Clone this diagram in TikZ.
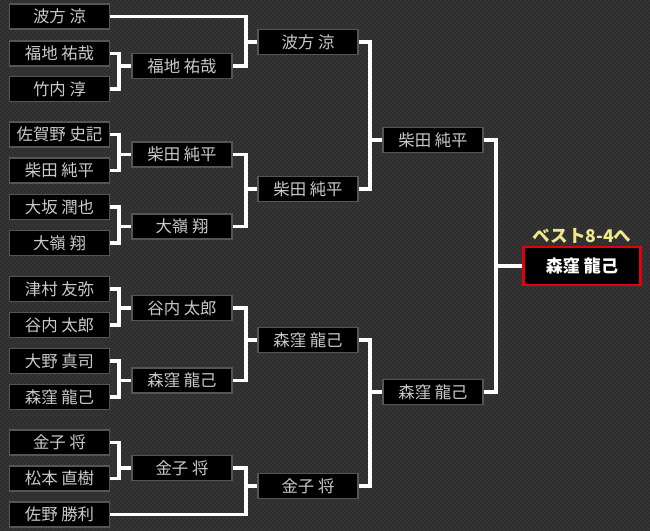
\documentclass[tikz,border=0pt]{standalone}
\usepackage{fontspec}
\setmainfont{Noto Sans CJK JP}
\definecolor{bgc}{HTML}{383838}
\definecolor{stripec}{HTML}{2A2A2A}
\definecolor{boxborder}{HTML}{555555}
\definecolor{namec}{HTML}{CACACA}
\definecolor{goldc}{HTML}{F0E68C}
\definecolor{redc}{HTML}{E00010}
\begin{document}
\begin{tikzpicture}[x=0.75pt,y=-0.75pt,
  namebox/.style={draw=boxborder,line width=1.2pt,fill=black,minimum width=75pt,minimum height=18.75pt,inner sep=0pt,text=namec,font=\fontsize{12.3}{13}\selectfont},
  finalbox/.style={draw=redc,line width=1.8pt,fill=black,minimum width=88pt,minimum height=28.5pt,inner sep=0pt,text=white,font=\fontsize{12.8}{13}\selectfont\bfseries},
  conn/.style={draw=white,line width=2.3pt,line join=miter},
  stripe/.style={draw=stripec,line width=0.9pt}]
\useasboundingbox (0,0) rectangle (650,531);
\fill[bgc] (0,0) rectangle (650,531);
\begin{scope}
\clip (0,0) rectangle (650,531);
\foreach \i in {0,4,...,1184} \draw[stripe] (\i,0) -- (\i-531,531);
\end{scope}
% vertical connector x positions
\coordinate (v1) at (119,0);
\coordinate (v2) at (246,0);
\coordinate (v3) at (370,0);
\coordinate (v4) at (496,0);
% round 1
\node[namebox] (a1) at (59.5,16.5) {波方 涼};
\node[namebox] (a2) at (59.5,53.5) {福地 祐哉};
\node[namebox] (a3) at (59.5,89) {竹内 淳};
\node[namebox] (a4) at (59.5,134.5) {佐賀野 史記};
\node[namebox] (a5) at (59.5,170.5) {柴田 純平};
\node[namebox] (a6) at (59.5,207) {大坂 潤也};
\node[namebox] (a7) at (59.5,243) {大嶺 翔};
\node[namebox] (a8) at (59.5,289) {津村 友弥};
\node[namebox] (a9) at (59.5,325) {谷内 太郎};
\node[namebox] (a10) at (59.5,361) {大野 真司};
\node[namebox] (a11) at (59.5,397) {森窪 龍己};
\node[namebox] (a12) at (59.5,442.5) {金子 将};
\node[namebox] (a13) at (59.5,478.5) {松本 直樹};
\node[namebox] (a14) at (59.5,514.5) {佐野 勝利};
% round 2
\node[namebox] (b1) at (182,66) {福地 祐哉};
\node[namebox] (b2) at (182,154.5) {柴田 純平};
\node[namebox] (b3) at (182,226.5) {大嶺 翔};
\node[namebox] (b4) at (182,308) {谷内 太郎};
\node[namebox] (b5) at (182,380.5) {森窪 龍己};
\node[namebox] (b6) at (182,468) {金子 将};
% round 3
\node[namebox] (c1) at (308,42) {波方 涼};
\node[namebox] (c2) at (308,189) {柴田 純平};
\node[namebox] (c3) at (308,340) {森窪 龍己};
\node[namebox] (c4) at (308,486) {金子 将};
% round 4
\node[namebox] (d1) at (433,140) {柴田 純平};
\node[namebox] (d2) at (433,392) {森窪 龍己};
% final
\node[finalbox] (f) at (582,266) {森窪 龍己};
\node[text=goldc,font=\fontsize{13.2}{14}\selectfont\bfseries,anchor=south,inner sep=0pt] (lab) at (582,244) {ベスト8-4へ};
% connectors round 1 -> 2
\draw[conn] (a2.east) -- (a2.east -| v1) |- (a3.east);
\draw[conn] (b1.west) -- (b1.west -| v1);
\draw[conn] (a4.east) -- (a4.east -| v1) |- (a5.east);
\draw[conn] (b2.west) -- (b2.west -| v1);
\draw[conn] (a6.east) -- (a6.east -| v1) |- (a7.east);
\draw[conn] (b3.west) -- (b3.west -| v1);
\draw[conn] (a8.east) -- (a8.east -| v1) |- (a9.east);
\draw[conn] (b4.west) -- (b4.west -| v1);
\draw[conn] (a10.east) -- (a10.east -| v1) |- (a11.east);
\draw[conn] (b5.west) -- (b5.west -| v1);
\draw[conn] (a12.east) -- (a12.east -| v1) |- (a13.east);
\draw[conn] (b6.west) -- (b6.west -| v1);
% round 2 -> 3
\draw[conn] (a1.east) -- (a1.east -| v2) |- (b1.east);
\draw[conn] (c1.west) -- (c1.west -| v2);
\draw[conn] (b2.east) -- (b2.east -| v2) |- (b3.east);
\draw[conn] (c2.west) -- (c2.west -| v2);
\draw[conn] (b4.east) -- (b4.east -| v2) |- (b5.east);
\draw[conn] (c3.west) -- (c3.west -| v2);
\draw[conn] (b6.east) -- (b6.east -| v2) |- (a14.east);
\draw[conn] (c4.west) -- (c4.west -| v2);
% round 3 -> 4
\draw[conn] (c1.east) -- (c1.east -| v3) |- (c2.east);
\draw[conn] (d1.west) -- (d1.west -| v3);
\draw[conn] (c3.east) -- (c3.east -| v3) |- (c4.east);
\draw[conn] (d2.west) -- (d2.west -| v3);
% round 4 -> final
\draw[conn] (d1.east) -- (d1.east -| v4) |- (d2.east);
\draw[conn,line width=3.5pt] (f.west) -- (f.west -| v4);
\end{tikzpicture}
\end{document}
